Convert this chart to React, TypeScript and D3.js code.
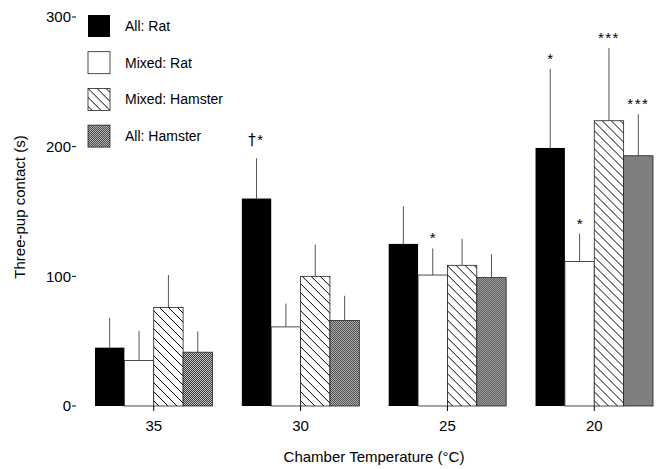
import React from "react";
import * as d3 from "d3";

const temperatures = ["35", "30", "25", "20"];
const seriesNames = ["All: Rat", "Mixed: Rat", "Mixed: Hamster", "All: Hamster"];
// means per series across temperatures
const allRat = [45, 160, 125, 199];
const mixedRat = [35, 61, 101, 111.5];
const mixedHamster = [76, 100, 108.5, 220];
const allHamster = [41.5, 66, 99, 193];
// mean + error (upper end of error line)
const allRatErr = [68, 191, 154, 260];
const mixedRatErr = [58, 79, 121.5, 133];
const mixedHamsterErr = [101, 124.5, 129, 276];
const allHamsterErr = [57.5, 85, 117, 225];
// significance marks
const allRatMarks = ["", "†*", "", "*"];
const mixedRatMarks = ["", "", "*", "*"];
const mixedHamsterMarks = ["", "", "", "***"];
const allHamsterMarks = ["", "", "", "***"];
const yTicks = [0, 100, 200, 300];

const values = [allRat, mixedRat, mixedHamster, allHamster];
const errs = [allRatErr, mixedRatErr, mixedHamsterErr, allHamsterErr];
const marks = [allRatMarks, mixedRatMarks, mixedHamsterMarks, allHamsterMarks];

const W = 658;
const H = 469;
const font = "'Liberation Sans', Arial, Helvetica, sans-serif";

export default function App() {
  const x = d3.scaleBand<string>().domain(temperatures).range([95, 653]).paddingInner(0.2).paddingOuter(0);
  const xs = d3.scaleBand<string>().domain(seriesNames).range([0, x.bandwidth()]).padding(0);
  const y = d3.scaleLinear().domain([0, 300]).range([406, 17]);
  const fills = ["#000", "#fff", "url(#hatch)", "url(#stipple)"];

  return (
    <svg width={W} height={H} style={{ position: "absolute", left: 0, top: 0, background: "#fff" }}>
      <defs>
        <pattern id="hatch" patternUnits="userSpaceOnUse" width={9} height={9}>
          <rect width={9} height={9} fill="#fff" />
          <path d="M0,0 L9,9 M-4.5,4.5 L4.5,13.5 M4.5,-4.5 L13.5,4.5" stroke="#000" strokeWidth={1} />
        </pattern>
        <pattern id="stipple" patternUnits="userSpaceOnUse" width={2} height={2}>
          <rect width={2} height={2} fill="#c4c4c4" />
          <rect x={0} y={0} width={1} height={1} fill="#3a3a3a" />
          <rect x={1} y={1} width={1} height={1} fill="#3a3a3a" />
        </pattern>
      </defs>
      {/* y axis ticks */}
      {yTicks.map((t) => (
        <g key={t} transform={`translate(0,${y(t)})`}>
          <text x={71} dy="0.35em" textAnchor="end" fontFamily={font} fontSize={15} fill="#000">
            {t}
          </text>
          <line x1={72} x2={76} y1={0} y2={0} stroke="#000" strokeWidth={1} />
        </g>
      ))}
      <text
        transform={`translate(25,${207}) rotate(-90)`}
        textAnchor="middle"
        fontFamily={font}
        fontSize={15}
        fill="#000"
      >
        Three-pup contact (s)
      </text>
      {/* bars */}
      {temperatures.map((t, gi) => (
        <g key={t} transform={`translate(${x(t)},0)`}>
          {seriesNames.map((s, si) => {
            const v = values[si][gi];
            const bx = xs(s)!;
            const bw = xs.bandwidth();
            const cx = bx + bw / 2;
            const m = marks[si][gi];
            return (
              <g key={s}>
                <line x1={cx} x2={cx} y1={y(v)} y2={y(errs[si][gi])} stroke="#555" strokeWidth={1} />
                <rect
                  x={bx}
                  y={y(v)}
                  width={bw}
                  height={y(0) - y(v)}
                  fill={fills[si]}
                  stroke={si === 0 ? "none" : "#222"}
                  strokeWidth={si === 0 ? 0 : 0.8}
                />
                {m && (
                  <text
                    x={cx}
                    y={y(errs[si][gi]) - (m.includes("†") ? 13 : 5)}
                    textAnchor="middle"
                    fontFamily={font}
                    fontSize={15}
                    letterSpacing={m.length > 1 ? 1.5 : 0}
                    fill="#000"
                  >
                    {m.split("").map((ch, k) => (
                      <tspan key={k} fontFamily={ch === "†" ? "'DejaVu Sans', sans-serif" : font} fill="#000">
                        {ch}
                      </tspan>
                    ))}
                  </text>
                )}
              </g>
            );
          })}
          <line x1={x.bandwidth() / 2} x2={x.bandwidth() / 2} y1={y(0)} y2={y(0) + 5} stroke="#000" strokeWidth={1} />
          <text
            x={x.bandwidth() / 2}
            y={y(0) + 25}
            textAnchor="middle"
            fontFamily={font}
            fontSize={15}
            fill="#000"
          >
            {t}
          </text>
        </g>
      ))}
      <text x={(x("35")! + x("20")! + x.bandwidth()) / 2} y={462} textAnchor="middle" fontFamily={font} fontSize={15} fill="#000">
        Chamber Temperature (°C)
      </text>
      {/* legend */}
      {seriesNames.map((s, i) => (
        <g key={s} transform={`translate(88,${15 + i * 36.7})`}>
          <rect width={22} height={22} fill={fills[i]} stroke={i === 0 ? "none" : "#222"} strokeWidth={0.8} />
          <text x={37} y={11} dy="0.35em" fontFamily={font} fontSize={14} fill="#000">
            {s}
          </text>
        </g>
      ))}
    </svg>
  );
}
